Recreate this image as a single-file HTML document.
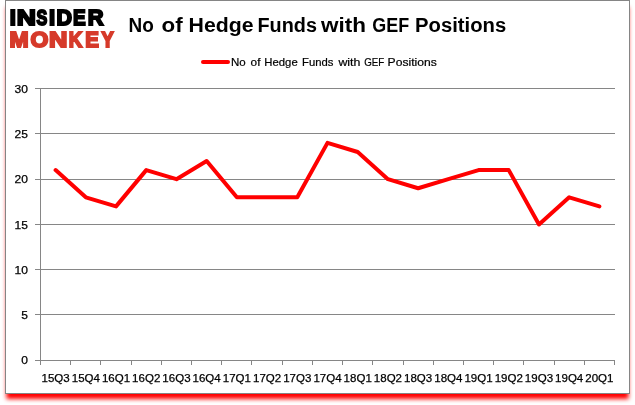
<!DOCTYPE html>
<html lang="en">
<head>
<meta charset="utf-8">
<title>No of Hedge Funds with GEF Positions</title>
<style>
html,body{margin:0;padding:0;background:#fff;}
body{width:635px;height:405px;overflow:hidden;position:relative;font-family:"Liberation Sans",sans-serif;}
svg{position:absolute;left:0;top:0;}
svg text{font-family:"Liberation Sans",sans-serif;fill:#000;}
.grid line{stroke:#868686;stroke-width:1;shape-rendering:crispEdges;}
.lab text{font-size:11.5px;stroke:#000;stroke-width:0.25px;}
</style>
</head>
<body>
<svg width="635" height="405" viewBox="0 0 635 405">
<defs><filter id="sh" x="-5%" y="-5%" width="110%" height="110%"><feGaussianBlur stdDeviation="2"/></filter></defs>
<rect x="6.4" y="7" width="622.2" height="392" fill="#ff0000" filter="url(#sh)"/>
<rect x="5.5" y="0.5" width="624" height="393" fill="#ffffff" stroke="#858585" stroke-width="1" shape-rendering="crispEdges"/>
<g class="grid">
<line x1="35" y1="360.5" x2="615" y2="360.5"/>
<line x1="35" y1="314.5" x2="615" y2="314.5"/>
<line x1="35" y1="269.5" x2="615" y2="269.5"/>
<line x1="35" y1="224.5" x2="615" y2="224.5"/>
<line x1="35" y1="179.5" x2="615" y2="179.5"/>
<line x1="35" y1="133.5" x2="615" y2="133.5"/>
<line x1="35" y1="88.5" x2="615" y2="88.5"/>
<line x1="40.5" y1="88" x2="40.5" y2="361"/>
<line x1="40.5" y1="360" x2="40.5" y2="365"/>
<line x1="70.5" y1="360" x2="70.5" y2="365"/>
<line x1="100.5" y1="360" x2="100.5" y2="365"/>
<line x1="131.5" y1="360" x2="131.5" y2="365"/>
<line x1="161.5" y1="360" x2="161.5" y2="365"/>
<line x1="191.5" y1="360" x2="191.5" y2="365"/>
<line x1="221.5" y1="360" x2="221.5" y2="365"/>
<line x1="251.5" y1="360" x2="251.5" y2="365"/>
<line x1="282.5" y1="360" x2="282.5" y2="365"/>
<line x1="312.5" y1="360" x2="312.5" y2="365"/>
<line x1="342.5" y1="360" x2="342.5" y2="365"/>
<line x1="372.5" y1="360" x2="372.5" y2="365"/>
<line x1="403.5" y1="360" x2="403.5" y2="365"/>
<line x1="433.5" y1="360" x2="433.5" y2="365"/>
<line x1="463.5" y1="360" x2="463.5" y2="365"/>
<line x1="493.5" y1="360" x2="493.5" y2="365"/>
<line x1="523.5" y1="360" x2="523.5" y2="365"/>
<line x1="554.5" y1="360" x2="554.5" y2="365"/>
<line x1="584.5" y1="360" x2="584.5" y2="365"/>
<line x1="614.5" y1="360" x2="614.5" y2="365"/>
</g>
<g class="lab">
<text x="28" y="364.0" text-anchor="end" textLength="6.7" lengthAdjust="spacingAndGlyphs">0</text>
<text x="28" y="319.0" text-anchor="end" textLength="6.7" lengthAdjust="spacingAndGlyphs">5</text>
<text x="28" y="274.0" text-anchor="end" textLength="13.4" lengthAdjust="spacingAndGlyphs">10</text>
<text x="28" y="229.0" text-anchor="end" textLength="13.4" lengthAdjust="spacingAndGlyphs">15</text>
<text x="28" y="183.0" text-anchor="end" textLength="13.4" lengthAdjust="spacingAndGlyphs">20</text>
<text x="28" y="138.0" text-anchor="end" textLength="13.4" lengthAdjust="spacingAndGlyphs">25</text>
<text x="28" y="93.0" text-anchor="end" textLength="13.4" lengthAdjust="spacingAndGlyphs">30</text>
<text x="55.61" y="382" text-anchor="middle" textLength="28.2" lengthAdjust="spacingAndGlyphs">15Q3</text>
<text x="85.82" y="382" text-anchor="middle" textLength="28.2" lengthAdjust="spacingAndGlyphs">15Q4</text>
<text x="116.03" y="382" text-anchor="middle" textLength="28.2" lengthAdjust="spacingAndGlyphs">16Q1</text>
<text x="146.24" y="382" text-anchor="middle" textLength="28.2" lengthAdjust="spacingAndGlyphs">16Q2</text>
<text x="176.45" y="382" text-anchor="middle" textLength="28.2" lengthAdjust="spacingAndGlyphs">16Q3</text>
<text x="206.66" y="382" text-anchor="middle" textLength="28.2" lengthAdjust="spacingAndGlyphs">16Q4</text>
<text x="236.87" y="382" text-anchor="middle" textLength="28.2" lengthAdjust="spacingAndGlyphs">17Q1</text>
<text x="267.08" y="382" text-anchor="middle" textLength="28.2" lengthAdjust="spacingAndGlyphs">17Q2</text>
<text x="297.29" y="382" text-anchor="middle" textLength="28.2" lengthAdjust="spacingAndGlyphs">17Q3</text>
<text x="327.50" y="382" text-anchor="middle" textLength="28.2" lengthAdjust="spacingAndGlyphs">17Q4</text>
<text x="357.71" y="382" text-anchor="middle" textLength="28.2" lengthAdjust="spacingAndGlyphs">18Q1</text>
<text x="387.92" y="382" text-anchor="middle" textLength="28.2" lengthAdjust="spacingAndGlyphs">18Q2</text>
<text x="418.13" y="382" text-anchor="middle" textLength="28.2" lengthAdjust="spacingAndGlyphs">18Q3</text>
<text x="448.34" y="382" text-anchor="middle" textLength="28.2" lengthAdjust="spacingAndGlyphs">18Q4</text>
<text x="478.55" y="382" text-anchor="middle" textLength="28.2" lengthAdjust="spacingAndGlyphs">19Q1</text>
<text x="508.76" y="382" text-anchor="middle" textLength="28.2" lengthAdjust="spacingAndGlyphs">19Q2</text>
<text x="538.97" y="382" text-anchor="middle" textLength="28.2" lengthAdjust="spacingAndGlyphs">19Q3</text>
<text x="569.18" y="382" text-anchor="middle" textLength="28.2" lengthAdjust="spacingAndGlyphs">19Q4</text>
<text x="599.39" y="382" text-anchor="middle" textLength="28.2" lengthAdjust="spacingAndGlyphs">20Q1</text>
</g>
<polyline points="55.61,170.10 85.82,197.30 116.03,206.37 146.24,170.10 176.45,179.17 206.66,161.03 236.87,197.30 267.08,197.30 297.29,197.30 327.50,142.90 357.71,151.97 387.92,179.17 418.13,188.23 448.34,179.17 478.55,170.10 508.76,170.10 538.97,224.50 569.18,197.30 599.39,206.37" fill="none" stroke="#ff0000" stroke-width="4" stroke-linejoin="round" stroke-linecap="round"/>
<line x1="203" y1="62" x2="228" y2="62" stroke="#ff0000" stroke-width="4" stroke-linecap="round"/>
<text y="66.0" font-size="10.7" font-weight="normal" style="fill:#000;stroke:#000;stroke-width:0.2"><tspan x="231.03" textLength="14.73" lengthAdjust="spacingAndGlyphs">No</tspan> <tspan x="250.62" textLength="9.83" lengthAdjust="spacingAndGlyphs">of</tspan> <tspan x="264.35" textLength="33.37" lengthAdjust="spacingAndGlyphs">Hedge</tspan> <tspan x="302.03" textLength="31.39" lengthAdjust="spacingAndGlyphs">Funds</tspan> <tspan x="338.40" textLength="22.01" lengthAdjust="spacingAndGlyphs">with</tspan> <tspan x="364.18" textLength="20.08" lengthAdjust="spacingAndGlyphs">GEF</tspan> <tspan x="387.62" textLength="49.16" lengthAdjust="spacingAndGlyphs">Positions</tspan></text>
<text y="32.0" font-size="20" font-weight="bold" style="fill:#000"><tspan x="128.58" textLength="25.26" lengthAdjust="spacingAndGlyphs">No</tspan> <tspan x="161.62" textLength="21.13" lengthAdjust="spacingAndGlyphs">of</tspan> <tspan x="188.62" textLength="65.00" lengthAdjust="spacingAndGlyphs">Hedge</tspan> <tspan x="257.53" textLength="59.43" lengthAdjust="spacingAndGlyphs">Funds</tspan> <tspan x="321.00" textLength="44.99" lengthAdjust="spacingAndGlyphs">with</tspan> <tspan x="372.25" textLength="36.86" lengthAdjust="spacingAndGlyphs">GEF</tspan> <tspan x="415.07" textLength="91.18" lengthAdjust="spacingAndGlyphs">Positions</tspan></text>
<text y="25.00" font-size="22.56" font-weight="bold" style="fill:#000;stroke:#000;stroke-width:2"><tspan x="9.72" textLength="6.12" lengthAdjust="spacingAndGlyphs">I</tspan><tspan x="16.65" textLength="19.15" lengthAdjust="spacingAndGlyphs">N</tspan><tspan x="36.60" textLength="10.79" lengthAdjust="spacingAndGlyphs">S</tspan><tspan x="48.95" textLength="6.11" lengthAdjust="spacingAndGlyphs">I</tspan><tspan x="56.45" textLength="15.52" lengthAdjust="spacingAndGlyphs">D</tspan><tspan x="72.95" textLength="12.68" lengthAdjust="spacingAndGlyphs">E</tspan><tspan x="87.67" textLength="15.82" lengthAdjust="spacingAndGlyphs">R</tspan></text>
<text y="47.00" font-size="22.38" font-weight="bold" style="fill:#d63a2a;stroke:#d63a2a;stroke-width:2"><tspan x="9.50" textLength="19.12" lengthAdjust="spacingAndGlyphs">M</tspan><tspan x="30.62" textLength="17.86" lengthAdjust="spacingAndGlyphs">O</tspan><tspan x="49.05" textLength="18.36" lengthAdjust="spacingAndGlyphs">N</tspan><tspan x="68.73" textLength="13.52" lengthAdjust="spacingAndGlyphs">K</tspan><tspan x="85.23" textLength="13.66" lengthAdjust="spacingAndGlyphs">E</tspan><tspan x="101.45" textLength="12.19" lengthAdjust="spacingAndGlyphs">Y</tspan></text>

</svg>
</body>
</html>
